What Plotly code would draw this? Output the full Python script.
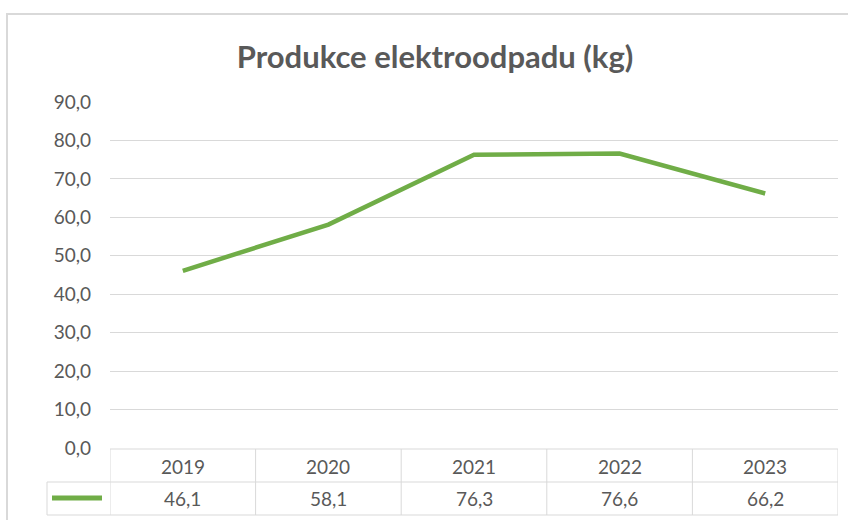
import plotly.graph_objects as go

years = ["2019", "2020", "2021", "2022", "2023"]
values = [46.1, 58.1, 76.3, 76.6, 66.2]
y_ticks = [0, 10, 20, 30, 40, 50, 60, 70, 80, 90]

W, H = 848, 520
GREEN = "#70AD47"
GRID = "#d9d9d9"
TEXT = "#595959"
FONT = "Lato, 'Open Sans', sans-serif"


def py(p):
    # pixel row -> paper y
    return 1 - p / H


def px(p):
    return p / W


fig = go.Figure()

fig.add_trace(
    go.Scatter(
        x=list(range(len(years))),
        y=values,
        mode="lines",
        line=dict(color=GREEN, width=4.5),
        hoverinfo="skip",
        showlegend=False,
    )
)

# data table under the plot (Excel style)
top, mid, bot = 449, 482, 515
shapes = [
    # chart frame
    dict(type="rect", xref="paper", yref="paper", x0=px(7), x1=1.02,
         y0=-0.02, y1=py(14), line=dict(color=GRID, width=2)),
    dict(type="line", xref="x", yref="paper", x0=-0.5, x1=len(years) - 0.5,
         y0=py(top), y1=py(top), line=dict(color=GRID, width=1)),
    dict(type="line", xref="paper", yref="paper", x0=px(47), x1=px(838),
         y0=py(mid), y1=py(mid), line=dict(color=GRID, width=1)),
    dict(type="line", xref="paper", yref="paper", x0=px(47), x1=px(838),
         y0=py(bot), y1=py(bot), line=dict(color=GRID, width=1)),
    dict(type="line", xref="paper", yref="paper", x0=px(47), x1=px(47),
         y0=py(mid), y1=py(bot), line=dict(color=GRID, width=1)),
    # legend key
    dict(type="line", xref="paper", yref="paper", x0=px(52), x1=px(102),
         y0=py(498), y1=py(498), line=dict(color=GREEN, width=5)),
]
for i in range(len(years) + 1):
    shapes.append(
        dict(type="line", xref="x", yref="paper", x0=i - 0.5, x1=i - 0.5,
             y0=py(top), y1=py(bot), line=dict(color=GRID, width=1))
    )

annotations = []
for i, (yr, v) in enumerate(zip(years, values)):
    annotations.append(
        dict(x=i, y=py(466), xref="x", yref="paper", yanchor="middle",
             text=yr, showarrow=False, font=dict(size=19, color=TEXT))
    )
    annotations.append(
        dict(x=i, y=py(498), xref="x", yref="paper", yanchor="middle",
             text=f"{v:.1f}".replace(".", ","), showarrow=False,
             font=dict(size=19, color=TEXT))
    )

fig.update_layout(
    width=W,
    height=H,
    margin=dict(l=0, r=0, t=0, b=0, autoexpand=False),
    paper_bgcolor="white",
    plot_bgcolor="white",
    separators=", ",
    font=dict(family=FONT, color=TEXT, size=19),
    title=dict(
        text="Produkce elektroodpadu (kg)",
        x=px(435),
        xanchor="center",
        y=py(57),
        yanchor="middle",
        font=dict(size=31, color=TEXT, family=FONT, weight="bold"),
    ),
    xaxis=dict(
        domain=[px(110), px(838)],
        range=[-0.5, len(years) - 0.5],
        showgrid=False,
        showticklabels=False,
        zeroline=False,
        fixedrange=True,
    ),
    yaxis=dict(
        domain=[py(448), py(102)],
        range=[0, 90],
        tickvals=y_ticks,
        tickformat=".1f",
        showgrid=True,
        gridcolor=GRID,
        gridwidth=1,
        zeroline=False,
        ticklabelstandoff=18,
        tickfont=dict(size=19, color=TEXT),
        fixedrange=True,
    ),
    shapes=shapes,
    annotations=annotations,
)

fig.write_html(
    "out.html",
    config={"displayModeBar": False},
    post_script="document.body.style.margin='0';document.body.style.overflow='hidden';",
)
